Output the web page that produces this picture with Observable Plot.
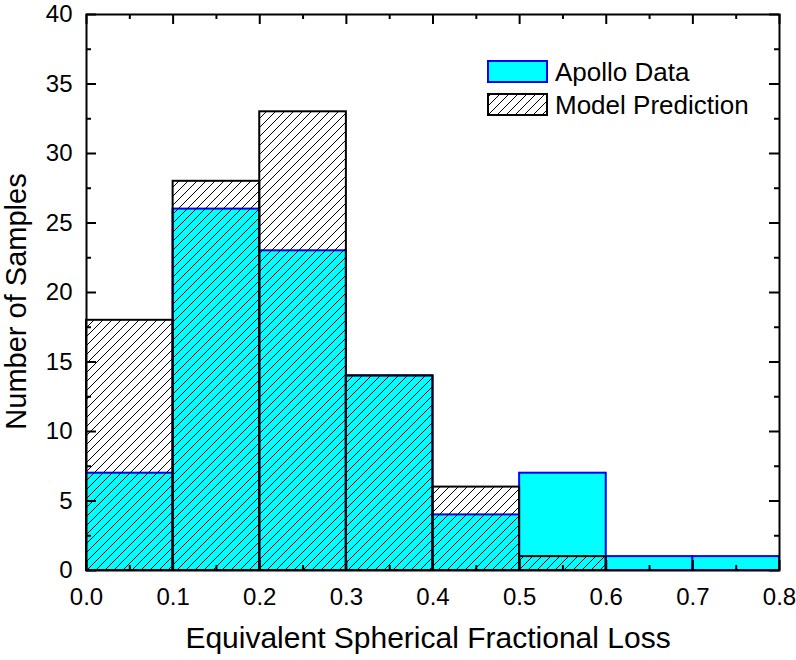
<!DOCTYPE html>
<html>
<head>
<meta charset="utf-8">
<script src="https://cdn.jsdelivr.net/npm/d3@7"></script>
<script src="https://cdn.jsdelivr.net/npm/@observablehq/plot@0.6"></script>
<style>
  html, body { margin: 0; padding: 0; background: #fff; }
  #chart { width: 796px; height: 660px; }
</style>
</head>
<body>
<div id="chart"></div>
<script>
// ---- data ----
const binStart = [0.0, 0.1, 0.2, 0.3, 0.4, 0.5, 0.6, 0.7];
const binEnd   = [0.1, 0.2, 0.3, 0.4, 0.5, 0.6, 0.7, 0.8];
const apolloData = [7, 26, 23, 14, 4, 7, 1, 1];
const modelPrediction = [18, 28, 33, 14, 6, 1, 0, 0];
const xMajorTicks = [0, 0.1, 0.2, 0.3, 0.4, 0.5, 0.6, 0.7, 0.8];
const xMinorTicks = [0.05, 0.15, 0.25, 0.35, 0.45, 0.55, 0.65, 0.75];
const yMajorTicks = [0, 5, 10, 15, 20, 25, 30, 35, 40];
const yMinorTicks = [2.5, 7.5, 12.5, 17.5, 22.5, 27.5, 32.5, 37.5];
const seriesNames = ["Apollo Data", "Model Prediction"];
const xLabel = "Equivalent Spherical Fractional Loss";
const yLabel = "Number of Samples";

const apolloRows = binStart.map((s, i) => ({x1: s, x2: binEnd[i], y: apolloData[i]}));
const modelRows = binStart.map((s, i) => ({x1: s, x2: binEnd[i], y: modelPrediction[i]})).filter(d => d.y > 0);

const W = 796, H = 660;
const mL = 86, mR = 17, mT = 14, mB = 90;
const plotW = W - mL - mR, plotH = H - mT - mB;
const FONT = "'Liberation Sans', Arial, Helvetica, sans-serif";

const chart = Plot.plot({
  width: W,
  height: H,
  marginLeft: mL,
  marginRight: mR,
  marginTop: mT,
  marginBottom: mB,
  style: {fontFamily: FONT, fontSize: "24px", color: "#000", background: "#fff"},
  x: {domain: [0, 0.8]},
  y: {domain: [0, 40]},
  marks: [
    Plot.rect(apolloRows, {x1: "x1", x2: "x2", y1: 0, y2: "y", fill: "#00ffff", stroke: "#0000ff", strokeWidth: 2}),
    Plot.rect(modelRows, {x1: "x1", x2: "x2", y1: 0, y2: "y", fill: "url(#hatch)", stroke: "#000", strokeWidth: 2}),
    // inward ticks: bottom / top
    Plot.tickX(xMajorTicks, {x: d => d, insetTop: plotH - 10, stroke: "#000", strokeWidth: 2}),
    Plot.tickX(xMinorTicks, {x: d => d, insetTop: plotH - 5, stroke: "#000", strokeWidth: 2}),
    Plot.tickX(xMajorTicks, {x: d => d, insetBottom: plotH - 10, stroke: "#000", strokeWidth: 2}),
    Plot.tickX(xMinorTicks, {x: d => d, insetBottom: plotH - 5, stroke: "#000", strokeWidth: 2}),
    // inward ticks: left / right
    Plot.tickY(yMajorTicks, {y: d => d, insetRight: plotW - 10, stroke: "#000", strokeWidth: 2}),
    Plot.tickY(yMinorTicks, {y: d => d, insetRight: plotW - 5, stroke: "#000", strokeWidth: 2}),
    Plot.tickY(yMajorTicks, {y: d => d, insetLeft: plotW - 10, stroke: "#000", strokeWidth: 2}),
    Plot.tickY(yMinorTicks, {y: d => d, insetLeft: plotW - 5, stroke: "#000", strokeWidth: 2}),
    Plot.axisX({ticks: xMajorTicks, tickSize: 0, tickPadding: 17, tickFormat: d3.format(".1f"), label: null, fontSize: 24}),
    Plot.axisY({ticks: yMajorTicks, tickSize: 0, tickPadding: 14, tickFormat: d3.format("d"), label: null, fontSize: 24}),
    Plot.text([xLabel], {frameAnchor: "bottom", textAnchor: "middle", lineAnchor: "middle", dx: -5, dy: 68, fontSize: 30, fill: "#000"}),
    Plot.text([yLabel], {frameAnchor: "left", textAnchor: "middle", lineAnchor: "middle", rotate: -90, dx: -70, dy: 9, fontSize: 29, fill: "#000"}),
    Plot.frame({stroke: "#000", strokeWidth: 2})
  ]
});

const svg = d3.select(chart);
// make sure tick labels use the intended size
svg.selectAll('g[aria-label="x-axis tick label"], g[aria-label="y-axis tick label"]')
  .style("font-size", "24px")
  .selectAll("text").style("font-size", "24px");

// hatch pattern definition
const defs = svg.insert("defs", ":first-child");
const pat = defs.append("pattern")
  .attr("id", "hatch")
  .attr("patternUnits", "userSpaceOnUse")
  .attr("width", 9).attr("height", 9);
pat.append("path")
  .attr("d", "M0,9 L9,0 M-2,2 L2,-2 M7,11 L11,7")
  .attr("stroke", "#000").attr("stroke-width", 1).attr("fill", "none");

// legend (inside plot, top right)
const legend = svg.append("g");
const legendStyles = [
  {fill: "#00ffff", stroke: "#0000ff"},
  {fill: "url(#hatch)", stroke: "#000"}
];
seriesNames.forEach((name, i) => {
  const top = 61 + i * 33;
  legend.append("rect")
    .attr("x", 488).attr("y", top).attr("width", 59).attr("height", 21)
    .attr("fill", legendStyles[i].fill).attr("stroke", legendStyles[i].stroke).attr("stroke-width", 2);
  legend.append("text")
    .attr("x", 555).attr("y", top + 11).attr("dy", "0.35em")
    .attr("text-anchor", "start")
    .style("font-size", "26px").style("font-family", FONT)
    .attr("fill", "#000").text(name);
});

document.getElementById("chart").appendChild(chart);
</script>
</body>
</html>
